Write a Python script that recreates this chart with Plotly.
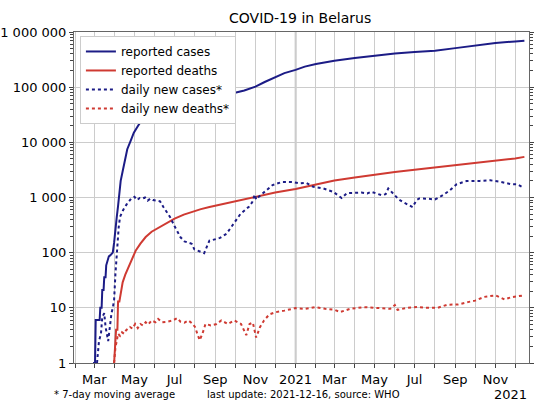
import plotly.graph_objects as go

# cumulative reported cases
cases_dates = ["2020-02-28", "2020-03-02", "2020-03-03", "2020-03-09", "2020-03-10", "2020-03-12",
               "2020-03-13", "2020-03-15", "2020-03-16", "2020-03-18", "2020-03-19", "2020-03-21",
               "2020-03-23", "2020-03-25", "2020-03-27", "2020-03-29", "2020-03-31", "2020-04-02",
               "2020-04-04", "2020-04-06", "2020-04-08", "2020-04-10", "2020-04-13", "2020-04-16",
               "2020-04-20", "2020-04-25", "2020-04-30", "2020-05-06", "2020-05-12", "2020-05-17",
               "2020-05-25", "2020-06-02", "2020-06-10", "2020-06-17", "2020-06-25", "2020-07-05",
               "2020-07-20", "2020-08-05", "2020-08-20", "2020-09-05", "2020-09-20", "2020-10-01",
               "2020-10-15", "2020-11-01", "2020-11-15", "2020-12-01", "2020-12-15", "2021-01-01",
               "2021-01-15", "2021-02-01", "2021-02-15", "2021-03-01", "2021-04-01", "2021-05-01",
               "2021-06-01", "2021-07-01", "2021-08-01", "2021-09-01", "2021-10-01", "2021-11-01",
               "2021-12-01", "2021-12-15"]
cases_vals = [1, 1, 6, 6, 10, 10,
              21, 21, 36, 36, 59, 76,
              86, 89, 94, 100, 152, 304,
              440, 700, 1100, 2000, 3000, 4800,
              7500, 10500, 15000, 19500, 25500, 31000,
              38500, 44500, 50500, 55000, 59500, 63500,
              66500, 69000, 71000, 73500, 76000, 79500,
              87000, 102000, 124000, 152000, 180000, 206000,
              236000, 262000, 285000, 302000, 338000, 372000,
              408000, 432000, 457000, 510000, 572000, 630000,
              676000, 695000]

# cumulative reported deaths
deaths_dates = ["2020-03-31", "2020-04-02", "2020-04-03", "2020-04-05", "2020-04-06", "2020-04-08",
                "2020-04-10", "2020-04-13", "2020-04-17", "2020-04-22", "2020-04-27", "2020-05-03",
                "2020-05-10", "2020-05-18", "2020-05-27", "2020-06-08", "2020-06-20", "2020-07-01",
                "2020-07-15", "2020-07-29", "2020-08-10", "2020-08-23", "2020-09-05", "2020-09-18",
                "2020-10-01", "2020-10-13", "2020-10-28", "2020-12-01", "2021-01-01", "2021-02-01",
                "2021-03-01", "2021-04-01", "2021-05-01", "2021-06-01", "2021-07-01", "2021-08-01",
                "2021-09-01", "2021-10-01", "2021-11-01", "2021-12-01", "2021-12-15"]
deaths_vals = [1, 2, 4, 4, 13, 13,
               19, 29, 40, 55, 79, 110,
               146, 192, 240, 292, 355, 415,
               490, 560, 615, 675, 730, 780,
               830, 890, 1000, 1230, 1430, 1720,
               2040, 2300, 2600, 2900, 3190, 3500,
               3860, 4230, 4600, 5100, 5450]

# daily new cases, 7-day moving average
new_cases_dates = ["2020-03-05", "2020-03-08", "2020-03-11", "2020-03-13", "2020-03-16", "2020-03-18",
                   "2020-03-22", "2020-03-24", "2020-03-27", "2020-03-29", "2020-03-31", "2020-04-02",
                   "2020-04-04", "2020-04-07", "2020-04-09", "2020-04-14", "2020-04-19", "2020-04-22",
                   "2020-04-26", "2020-05-01", "2020-05-05", "2020-05-09", "2020-05-13", "2020-05-17",
                   "2020-05-21", "2020-05-25", "2020-05-29", "2020-06-03", "2020-06-09", "2020-06-14",
                   "2020-06-20", "2020-06-24", "2020-07-01", "2020-07-05", "2020-07-10", "2020-07-16",
                   "2020-07-22", "2020-07-27", "2020-07-31", "2020-08-05", "2020-08-10", "2020-08-15",
                   "2020-08-18", "2020-08-23", "2020-08-28", "2020-09-03", "2020-09-08", "2020-09-18",
                   "2020-09-28", "2020-10-09", "2020-10-22", "2020-10-27", "2020-10-31", "2020-11-02",
                   "2020-11-06", "2020-11-17", "2020-11-27", "2020-12-12", "2020-12-28", "2021-01-07",
                   "2021-01-17", "2021-01-28", "2021-02-12", "2021-02-27", "2021-03-08", "2021-03-12",
                   "2021-03-20", "2021-04-05", "2021-04-11", "2021-04-20", "2021-04-26", "2021-05-12",
                   "2021-05-18", "2021-05-22", "2021-05-30", "2021-06-04", "2021-06-07", "2021-06-13",
                   "2021-06-23", "2021-06-28", "2021-07-04", "2021-07-08", "2021-07-21", "2021-08-01",
                   "2021-08-13", "2021-08-24", "2021-09-03", "2021-09-18", "2021-10-08", "2021-10-24",
                   "2021-11-08", "2021-11-24", "2021-12-04", "2021-12-14"]
new_cases_vals = [1, 2.5, 3.4, 6.8, 8, 4.5,
                  2.5, 4.5, 8, 10, 14, 41,
                  110, 290, 445, 600, 750, 850,
                  960, 1030, 900, 980, 960, 1000,
                  880, 950, 900, 880, 850, 670,
                  520, 445, 300, 240, 190, 160,
                  150, 145, 115, 110, 103, 98,
                  120, 165, 170, 175, 185, 220,
                  330, 500, 680, 820, 1130, 920,
                  1030, 1350, 1680, 1920, 1900, 1800,
                  1850, 1560, 1460, 1270, 1050, 980,
                  1200, 1210, 1230, 1180, 1270, 1100,
                  1150, 1460, 1180, 1030, 920, 830,
                  720, 670, 900, 960, 950, 920,
                  1100, 1360, 1740, 1990, 2000, 2050,
                  1930, 1750, 1740, 1500]

# daily new deaths, 7-day moving average
new_deaths_dates = ["2020-03-31", "2020-04-02", "2020-04-04", "2020-04-06", "2020-04-09", "2020-04-12",
                    "2020-04-15", "2020-04-18", "2020-04-21", "2020-04-24", "2020-04-28", "2020-05-02",
                    "2020-05-06", "2020-05-10", "2020-05-14", "2020-05-18", "2020-05-22", "2020-05-27",
                    "2020-06-02", "2020-06-06", "2020-06-12", "2020-06-20", "2020-06-28", "2020-07-05",
                    "2020-07-10", "2020-07-16", "2020-07-22", "2020-07-28", "2020-08-01", "2020-08-05",
                    "2020-08-08", "2020-08-12", "2020-08-17", "2020-08-25", "2020-09-03", "2020-09-10",
                    "2020-09-20", "2020-09-30", "2020-10-10", "2020-10-18", "2020-10-23", "2020-10-28",
                    "2020-11-02", "2020-11-08", "2020-11-14", "2020-11-22", "2020-12-01", "2020-12-15",
                    "2021-01-01", "2021-01-15", "2021-01-30", "2021-02-15", "2021-03-01", "2021-03-10",
                    "2021-03-25", "2021-04-15", "2021-05-05", "2021-05-25", "2021-06-01", "2021-06-05",
                    "2021-06-20", "2021-07-05", "2021-07-20", "2021-08-05", "2021-08-20", "2021-09-05",
                    "2021-09-20", "2021-10-01", "2021-10-15", "2021-11-01", "2021-11-15", "2021-11-25",
                    "2021-12-14"]
new_deaths_vals = [1, 1.9, 2.5, 3.4, 3.1, 3.6,
                   3.4, 3.9, 4.2, 4.5, 4.2, 5.1,
                   4.3, 5.1, 4.8, 5.5, 5.0, 5.9,
                   5.5, 6.3, 5.5, 5.6, 5.9, 6.5,
                   5.6, 5.4, 5.9, 5.2, 4.5, 3.2,
                   2.6, 3.3, 5.1, 4.8, 5.1, 5.9,
                   5.1, 5.9, 5.1, 3.2, 5.1, 5.4,
                   2.9, 4.5, 5.9, 7.6, 8.3, 8.9,
                   9.9, 9.6, 10.3, 9.6, 9.2, 8.4,
                   9.6, 10.3, 10, 9.6, 11.2, 9.2,
                   10, 10.4, 10, 10, 11.4, 11.5,
                   12.7, 13.5, 15.8, 16.8, 14.2, 15.6,
                   16.8]

month_ticks = ["2020-02-01", "2020-03-01", "2020-04-01", "2020-05-01", "2020-06-01", "2020-07-01",
               "2020-08-01", "2020-09-01", "2020-10-01", "2020-11-01", "2020-12-01", "2021-01-01",
               "2021-02-01", "2021-03-01", "2021-04-01", "2021-05-01", "2021-06-01", "2021-07-01",
               "2021-08-01", "2021-09-01", "2021-10-01", "2021-11-01", "2021-12-01"]
month_labels = ["", "Mar", "", "May", "", "Jul", "", "Sep", "", "Nov", "", "2021",
                "", "Mar", "", "May", "", "Jul", "", "Sep", "", "Nov", ""]

y_ticks = [1, 10, 100, 1000, 10000, 100000, 1000000]
y_labels = ["1", "10", "100", "1 000", "10 000", "100 000", "1 000 000"]

NAVY = "#1c1c86"
RED = "#cf3a32"
GRID = "#cccccc"
FONT = "DejaVu Sans"

fig = go.Figure()
fig.add_trace(go.Scatter(x=cases_dates, y=cases_vals, mode="lines", name="reported cases",
                         line=dict(color=NAVY, width=2)))
fig.add_trace(go.Scatter(x=deaths_dates, y=deaths_vals, mode="lines", name="reported deaths",
                         line=dict(color=RED, width=2)))
fig.add_trace(go.Scatter(x=new_cases_dates, y=new_cases_vals, mode="lines", name="daily new cases*",
                         line=dict(color=NAVY, width=2, dash="dot")))
fig.add_trace(go.Scatter(x=new_deaths_dates, y=new_deaths_vals, mode="lines", name="daily new deaths*",
                         line=dict(color=RED, width=2, dash="dot")))

# darker grid line at the start of the year
fig.add_shape(type="line", xref="x", yref="paper", x0="2021-01-01", x1="2021-01-01", y0=0, y1=1,
              line=dict(color="#8c8c8c", width=1.5), layer="below")

minor_y = [k * 10 ** d for d in range(6) for k in range(2, 10)]

fig.update_layout(
    width=550, height=413,
    margin=dict(l=74, r=21, t=32, b=50),
    paper_bgcolor="white", plot_bgcolor="white",
    font=dict(family=FONT, size=13, color="black"),
    title=dict(text="COVID-19 in Belarus", xref="paper", x=0.497, xanchor="center",
               y=0.956, yanchor="middle", font=dict(size=14)),
    showlegend=True,
    legend=dict(x=0.013, y=0.988, xanchor="left", yanchor="top", bgcolor="white",
                bordercolor="#cccccc", borderwidth=1, font=dict(size=12),
                tracegroupgap=0, itemwidth=30),
    xaxis=dict(type="date", range=["2020-01-30", "2021-12-22"], automargin=False,
               tickvals=month_ticks, ticktext=month_labels,
               ticks="outside", ticklen=4, tickcolor="#444", tickwidth=1,
               showgrid=True, gridcolor=GRID, gridwidth=1,
               showline=True, linecolor="#666", linewidth=1, mirror=True,
               zeroline=False, tickfont=dict(size=13)),
    yaxis=dict(type="log", range=[0, 6], tickvals=y_ticks, ticktext=y_labels, automargin=False,
               ticks="outside", ticklen=4, tickcolor="#444",
               minor=dict(tickvals=minor_y, ticks="outside", ticklen=3, tickcolor="#444", showgrid=False),
               showgrid=True, gridcolor=GRID, gridwidth=1,
               showline=True, linecolor="#666", linewidth=1, mirror="ticks",
               zeroline=False, tickfont=dict(size=13)),
    annotations=[
        dict(text="* 7-day moving average", xref="paper", yref="paper", x=-0.048, y=-0.095,
             xanchor="left", yanchor="middle", showarrow=False, font=dict(size=10)),
        dict(text="last update: 2021-12-16, source: WHO", xref="paper", yref="paper", x=0.287, y=-0.095,
             xanchor="left", yanchor="middle", showarrow=False, font=dict(size=10)),
        dict(text="2021", xref="paper", yref="paper", x=1.0, y=-0.095,
             xanchor="right", yanchor="middle", showarrow=False, font=dict(size=13)),
    ],
)

# drop the default 8px page margin so the figure fills the window
fig.write_html("out.html", config={"displayModeBar": False},
               post_script="document.body.style.margin='0';")
